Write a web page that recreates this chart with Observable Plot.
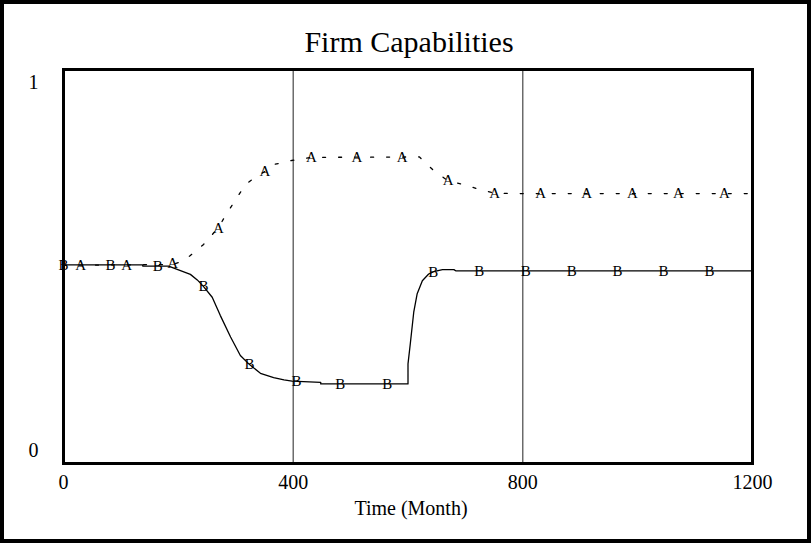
<!DOCTYPE html>
<html>
<head>
<meta charset="utf-8">
<script src="https://cdn.jsdelivr.net/npm/d3@7"></script>
<script src="https://cdn.jsdelivr.net/npm/@observablehq/plot@0.6"></script>
<style>
  html, body { margin: 0; padding: 0; background: #fff; }
  #wrap { position: relative; width: 811px; height: 543px; overflow: hidden; }
  #border { position: absolute; left: 0; top: 0; right: 0; bottom: 0; border: 4px solid #000; box-sizing: border-box; pointer-events: none; }
  svg { display: block; }
</style>
</head>
<body>
<div id="wrap"><div id="chart"></div><div id="border"></div></div>
<script>
// Series A (dotted) : time (month), value
const aTime  = [0, 190, 205, 221, 244, 270, 282, 300, 317, 335, 352, 367, 397, 432, 620, 643, 669, 697, 726, 751, 789, 1200];
const aValue = [0.503, 0.505, 0.512, 0.528, 0.556, 0.599, 0.629, 0.670, 0.708, 0.728, 0.742, 0.759, 0.769, 0.777, 0.778, 0.746, 0.718, 0.708, 0.695, 0.686, 0.685, 0.685];

// Series B (solid)
const bTime  = [0, 138, 138, 183, 221, 233, 244, 259, 273, 291, 308, 324, 343, 366, 384, 398, 448, 448, 600, 600, 604, 610, 616, 625, 636, 645, 660, 680, 683, 1200];
const bValue = [0.504, 0.504, 0.501, 0.501, 0.480, 0.466, 0.449, 0.422, 0.376, 0.321, 0.274, 0.251, 0.229, 0.218, 0.212, 0.209, 0.206, 0.202, 0.202, 0.253, 0.304, 0.384, 0.431, 0.464, 0.481, 0.487, 0.492, 0.492, 0.489, 0.489];

// Series markers (letters drawn along the lines)
const aMarkTime  = [30, 110, 190, 270, 351, 432, 511, 590, 670, 751, 831, 911, 991, 1071, 1151];
const aMarkValue = [0.503, 0.503, 0.508, 0.598, 0.742, 0.777, 0.777, 0.777, 0.718, 0.686, 0.685, 0.685, 0.685, 0.685, 0.685];
const bMarkTime  = [0, 82, 164, 244, 324, 406, 482, 564, 644, 724, 805, 885, 965, 1045, 1125];
const bMarkValue = [0.504, 0.504, 0.501, 0.449, 0.251, 0.208, 0.202, 0.202, 0.486, 0.489, 0.489, 0.489, 0.489, 0.489, 0.489];

const gridTimes = [400, 800];
const xTicks = [0, 400, 800, 1200];
const yTop = [1];
const yBottom = [0];
const titleText = "Firm Capabilities";
const xLabel = "Time (Month)";

const A = aTime.map((t, i) => ({t, v: aValue[i]}));
const B = bTime.map((t, i) => ({t, v: bValue[i]}));
const AM = aMarkTime.map((t, i) => ({t, v: aMarkValue[i]}));
const BM = bMarkTime.map((t, i) => ({t, v: bMarkValue[i]}));

const serif = "'Liberation Serif', 'Times New Roman', serif";

const chart = Plot.plot({
  width: 811,
  height: 543,
  marginLeft: 63,
  marginRight: 59,
  marginTop: 69,
  marginBottom: 80,
  style: {fontFamily: serif, background: "transparent", color: "#000"},
  x: {domain: [0, 1200], axis: null},
  y: {domain: [0, 1], axis: null},
  marks: [
    Plot.ruleX(gridTimes, {stroke: "#222", strokeWidth: 1}),
    Plot.line(A, {x: "t", y: "v", stroke: "#000", strokeWidth: 1.3, strokeDasharray: "3,13"}),
    Plot.line(B, {x: "t", y: "v", stroke: "#000", strokeWidth: 1.3}),
    Plot.text(AM, {x: "t", y: "v", text: () => "A", fontFamily: serif, fontSize: 15, fill: "#000"}),
    Plot.text(BM, {x: "t", y: "v", text: () => "B", fontFamily: serif, fontSize: 15, fill: "#000"}),
    Plot.frame({stroke: "#000", strokeWidth: 3}),
    Plot.axisX({ticks: xTicks, label: null, tickSize: 0, tickPadding: 11, tickFormat: d3.format("d"), fontSize: 20, fontFamily: serif, fill: "#000"}),
    Plot.axisY({ticks: yTop, label: null, tickSize: 0, tickPadding: 25, dy: 13, tickFormat: d3.format("d"), fontSize: 20, fontFamily: serif, fill: "#000"}),
    Plot.axisY({ticks: yBottom, label: null, tickSize: 0, tickPadding: 25, dy: -13, tickFormat: d3.format("d"), fontSize: 20, fontFamily: serif, fill: "#000"}),
    Plot.text([titleText], {frameAnchor: "top", lineAnchor: "middle", dy: -27, dx: 1, text: d => d, fontSize: 30, fontFamily: serif, fill: "#000"}),
    Plot.text([xLabel], {frameAnchor: "bottom", lineAnchor: "middle", dy: 45, dx: 3, text: d => d, fontSize: 20, fontFamily: serif, fill: "#000"})
  ]
});
document.getElementById("chart").appendChild(chart);
</script>
</body>
</html>
